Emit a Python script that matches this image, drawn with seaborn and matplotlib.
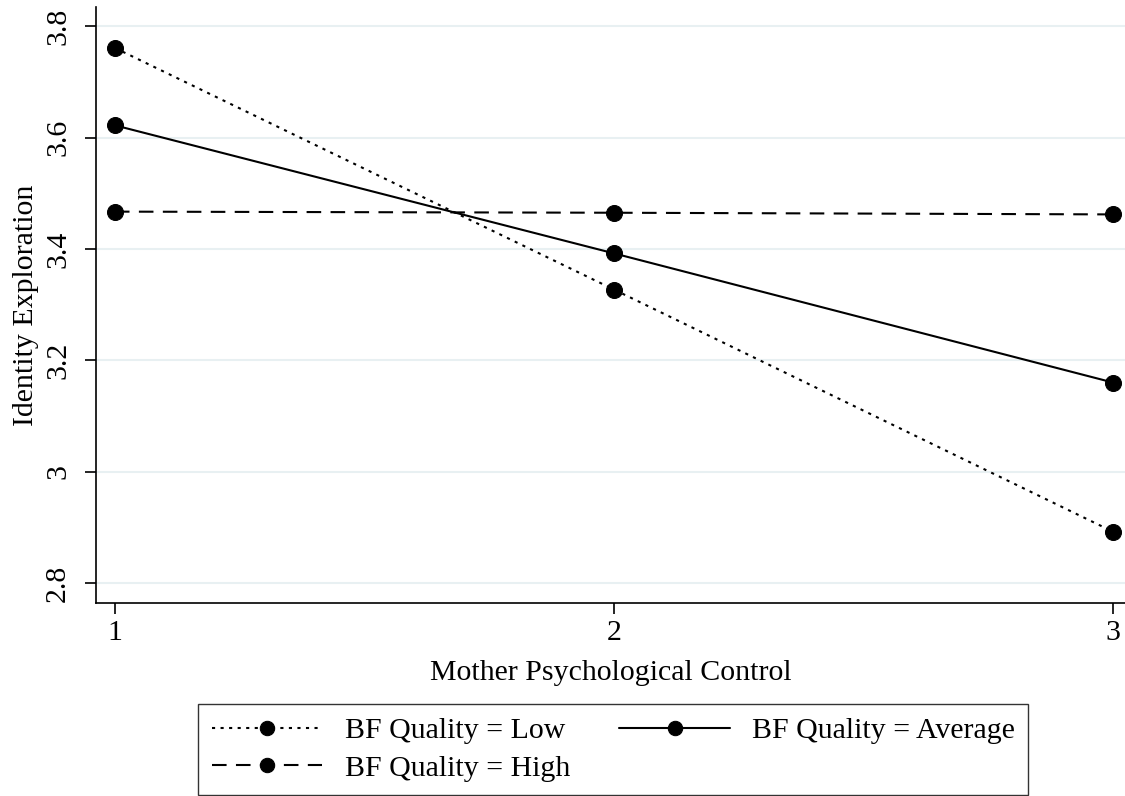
import pandas as pd
import matplotlib
matplotlib.use("Agg")
import matplotlib.pyplot as plt
import seaborn as sns

# values
mpc = [1, 2, 3]
low = [3.761, 3.327, 2.892]
average = [3.622, 3.392, 3.160]
high = [3.467, 3.465, 3.462]
group_names = ['BF Quality = Low', 'BF Quality = Average', 'BF Quality = High']
y_ticks = [2.8, 3.0, 3.2, 3.4, 3.6, 3.8]
y_tick_labels = ['2.8', '3', '3.2', '3.4', '3.6', '3.8']

df = pd.DataFrame({
    'mpc': mpc * 3,
    'value': low + average + high,
    'group': [g for g in group_names for _ in mpc],
})

sns.set_theme(style='white')
plt.rcParams['font.family'] = ['Liberation Serif', 'DejaVu Serif']
plt.rcParams['font.size'] = 21.5
plt.rcParams['text.color'] = 'black'
plt.rcParams['axes.labelcolor'] = 'black'
plt.rcParams['xtick.color'] = 'black'
plt.rcParams['ytick.color'] = 'black'

fig = plt.figure(figsize=(11.25, 7.96), dpi=100)
ax = fig.add_axes([0.0853, 0.2425, 0.9147, 0.7483])

sns.lineplot(data=df, x='mpc', y='value', hue='group', style='group',
             palette={g: 'black' for g in group_names},
             dashes={group_names[0]: (1.5, 2.6), group_names[1]: '',
                     group_names[2]: (7, 4.5)},
             markers={g: 'o' for g in group_names},
             markersize=11.5, markeredgecolor='black', linewidth=1.5,
             ax=ax)

ax.set_xlim(0.962, 3.024)
ax.set_ylim(2.764, 3.834)
ax.set_xticks(mpc)
ax.set_xticklabels(['1', '2', '3'], fontsize=21.5)
ax.set_yticks(y_ticks)
ax.set_yticklabels(y_tick_labels, fontsize=21.5, rotation=90, va='center')
ax.tick_params(axis='both', length=8, width=1.2, color='black',
               labelcolor='black', bottom=True, left=True)
ax.tick_params(axis='x', pad=4)
ax.tick_params(axis='y', pad=10)
ax.grid(axis='y', color='#e8f0f2', linewidth=1.5)
ax.set_axisbelow(True)
for side in ['top', 'right']:
    ax.spines[side].set_visible(False)
for side in ['left', 'bottom']:
    ax.spines[side].set_color('black')
    ax.spines[side].set_linewidth(1.2)

ax.set_xlabel('Mother Psychological Control', fontsize=21.5, labelpad=10)
ax.set_ylabel('Identity Exploration', fontsize=21.5, labelpad=4)

handles, labels = ax.get_legend_handles_labels()
ax.get_legend().remove()
order = [labels.index(group_names[0]), labels.index(group_names[2]),
         labels.index(group_names[1])]
leg = fig.legend([handles[i] for i in order], [labels[i] for i in order],
                 loc='center', bbox_to_anchor=(0.5453, 0.0585), ncol=2,
                 fontsize=21.5, frameon=True, fancybox=False,
                 edgecolor='black', handlelength=3.7, handletextpad=0.75,
                 columnspacing=1.65, labelspacing=0.35, borderpad=0.45,
                 markerscale=0.9)
leg.get_frame().set_linewidth(1.0)
for t in leg.get_texts():
    t.set_color('black')

fig.savefig('out.png', dpi=100)
